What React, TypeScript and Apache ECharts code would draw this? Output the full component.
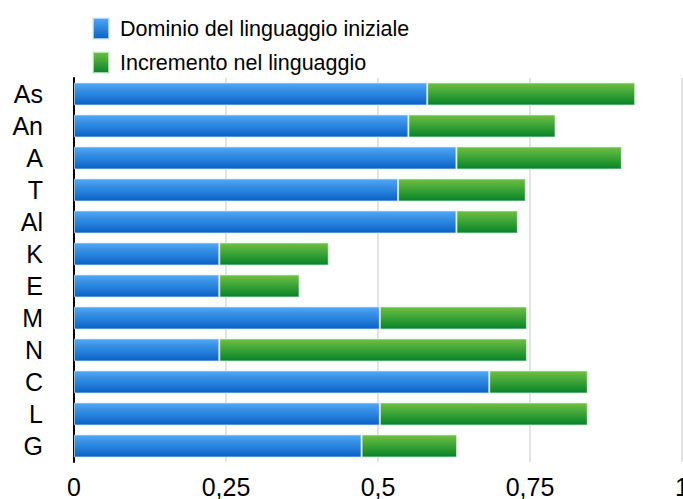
import React, { useEffect, useRef } from "react";
import * as echarts from "echarts";

// Categories, top to bottom
const categories = ["As", "An", "A", "T", "Al", "K", "E", "M", "N", "C", "L", "G"];
// Initial language mastery
const initialMastery = [0.581, 0.55, 0.629, 0.533, 0.629, 0.239, 0.239, 0.503, 0.239, 0.683, 0.503, 0.473];
// Gain in language
const languageGain = [0.342, 0.242, 0.272, 0.21, 0.101, 0.18, 0.132, 0.242, 0.506, 0.162, 0.342, 0.157];
const tickValues = [0, 0.25, 0.5, 0.75, 1];

const seriesNames = ["Dominio del linguaggio iniziale", "Incremento nel linguaggio"];

const blueFill = new echarts.graphic.LinearGradient(0, 0, 0, 1, [
  { offset: 0, color: "#4fa8f6" },
  { offset: 1, color: "#0861c4" },
]);
const greenFill = new echarts.graphic.LinearGradient(0, 0, 0, 1, [
  { offset: 0, color: "#6fc043" },
  { offset: 1, color: "#058428" },
]);

const labelFont = "'Liberation Sans', Arial, Helvetica, sans-serif";

export default function App() {
  const ref = useRef<HTMLDivElement>(null);

  useEffect(() => {
    if (!ref.current) return;
    const chart = echarts.init(ref.current, null, { renderer: "svg" });
    chart.setOption({
      animation: false,
      backgroundColor: "#ffffff",
      legend: {
        orient: "vertical",
        left: 92,
        top: 17,
        padding: 0,
        itemWidth: 16,
        itemHeight: 21,
        itemGap: 11,
        icon: "rect",
        textStyle: {
          fontSize: 21.5,
          color: "#000",
          fontFamily: labelFont,
          padding: [0, 0, 0, 6],
        },
        data: seriesNames,
      },
      grid: {
        left: 74,
        right: 1,
        top: 78,
        height: 384,
        containLabel: false,
        outerBoundsMode: "none",
      },
      xAxis: {
        type: "value",
        min: 0,
        max: 1,
        interval: 0.25,
        axisLine: { show: false },
        axisTick: { show: false },
        splitLine: { show: true, lineStyle: { color: "#dadada", width: 1.5 } },
        axisLabel: {
          margin: 12,
          fontSize: 25,
          color: "#000",
          fontFamily: labelFont,
          formatter: (v: number) => {
            const hit = tickValues.find((t) => Math.abs(t - v) < 1e-9);
            return hit === undefined ? "" : String(hit).replace(".", ",");
          },
        },
      },
      yAxis: {
        type: "category",
        inverse: true,
        data: categories,
        axisLine: { show: true, lineStyle: { color: "#000", width: 2 } },
        axisTick: { show: false },
        splitLine: { show: false },
        axisLabel: {
          interval: 0,
          margin: 31,
          fontSize: 25,
          color: "#000",
          fontFamily: labelFont,
        },
      },
      series: [
        {
          name: seriesNames[0],
          type: "bar",
          stack: "total",
          barWidth: 23,
          data: initialMastery,
          itemStyle: {
            color: blueFill,
            borderColor: "rgba(220,235,250,0.7)",
            borderWidth: 1,
          },
        },
        {
          name: seriesNames[1],
          type: "bar",
          stack: "total",
          barWidth: 23,
          data: languageGain,
          itemStyle: {
            color: greenFill,
            borderColor: "rgba(220,245,220,0.7)",
            borderWidth: 1,
          },
        },
      ],
    });
    return () => chart.dispose();
  }, []);

  return <div ref={ref} style={{ width: 683, height: 499, position: "absolute", left: 0, top: 0 }} />;
}
